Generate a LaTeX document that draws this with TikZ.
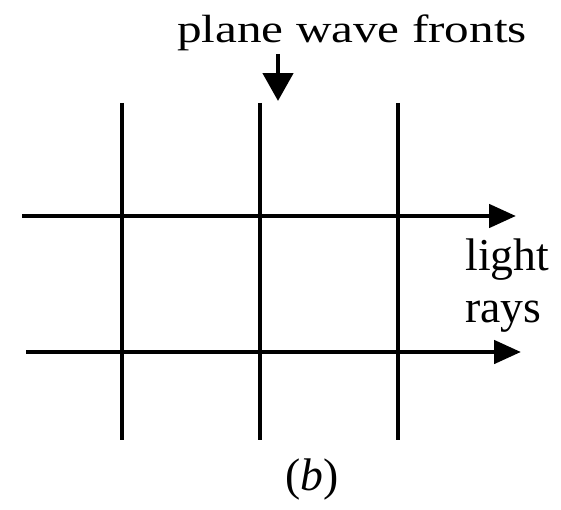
\documentclass[tikz,border=0pt]{standalone}
\usepackage{fontspec}
\setmainfont{Liberation Serif}
\usetikzlibrary{arrows.meta}
\begin{document}
\begin{tikzpicture}[x=0.02cm,y=-0.02cm,
  ln/.style={line width=2.7pt},
  ray/.style={ln,-{Triangle[length=0.54cm,width=0.46cm]}},
  lbl/.style={font=\fontsize{26}{28}\selectfont, inner sep=0pt}]
\useasboundingbox (0,0) rectangle (561,510);
% wave fronts
\foreach \n/\x in {w1/122,w2/260,w3/398}{
  \coordinate (\n t) at (\x,103);
  \coordinate (\n b) at (\x,440);
  \draw[ln] (\n t) -- (\n b);
}
% rays
\coordinate (r1s) at (22,216);
\coordinate (r1e) at (516,216);
\coordinate (r2s) at (26,352);
\coordinate (r2e) at (521,352);
\draw[ray] (r1s) -- (r1e);
\draw[ray] (r2s) -- (r2e);
% labels
\node[lbl, font=\fontsize{28}{30}\selectfont, anchor=base, yscale=0.8, transform shape] (pwf) at (352,43) {plane wave fronts};
\coordinate (as) at (278,54);
\coordinate (ae) at (278,101);
\draw[ln,-{Triangle[length=0.56cm,width=0.6cm]}] (as) -- (ae);
\node[lbl, anchor=base west] (lr) at (465,270) {light};
\node[lbl, anchor=base west] (rays) at (465,322) {rays};
\node[lbl, anchor=base] (cap) at (312,490) {(\textit{b})};
\end{tikzpicture}
\end{document}
